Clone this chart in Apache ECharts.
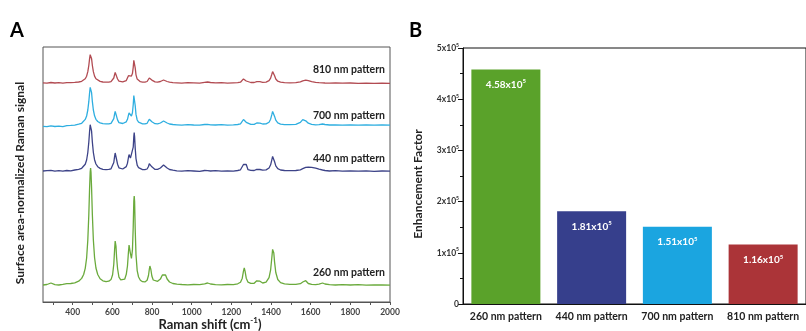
<!DOCTYPE html>
<html><head><meta charset="utf-8">
<script src="https://cdn.jsdelivr.net/npm/echarts@6/dist/echarts.min.js"></script>
<style>html,body{margin:0;padding:0;background:#fff}#c{width:806px;height:331px}</style>
</head><body><div id="c"></div>
<script>
const ramanShift = [250,270,290,310,330,350,370,390,410,430,
445,455,463,470,476,481,485,488,490,492,
495,499,504,510,517,526,538,552,568,582,
593,601,607,611,614,616,618,621,626,633,
642,652,662,670,676,681,684,687,691,696,
701,705,708,710,712,715,719,725,732,741,
752,764,775,782,786,789,791,794,799,806,
815,828,842,852,858,862,868,876,888,905,
925,950,980,1010,1040,1065,1080,1095,1120,1150,
1180,1210,1232,1246,1255,1261,1265,1269,1275,1284,
1298,1315,1328,1336,1344,1358,1375,1390,1398,1404,
1408,1411,1414,1418,1424,1434,1448,1468,1495,1525,
1548,1560,1567,1575,1588,1605,1625,1642,1652,1660,
1672,1695,1725,1760,1800,1840,1880,1920,1960,2000];

const pattern260 = [17,17.5,19,17.4,17,17.6,18.3,18.5,19.2,20.8,
23.6,27.5,33.7,44,62,87,114,130,134,130,
114,87,62,44.5,34,27.5,23.3,21.2,20.3,20.8,
22.4,27.2,37.7,52,61,62,56,45,33.5,24.8,
22.1,21.8,22.8,27.7,36,50,57,58,48.4,43.6,
51.8,75,101,106,100.5,72.8,47.3,31.4,25,21.8,
20.3,20.1,21.7,26.5,32.5,36,36,32.5,26,22,
20.5,20.7,22.9,27,29,29,27,23,20,18.5,
17.8,17.5,17.2,17.5,17.3,18.2,19,18,17.4,17.2,
17.5,17.3,18.2,19.8,23.8,30.8,34,30.8,23.8,19.8,
18.6,18.7,21.2,23,20.8,19,19.8,24.4,32.2,44.2,
52.6,54,49,39.6,29.5,22.5,19.4,18.1,17.7,17.6,
18.3,20,21.7,21.3,18.5,17.6,17.3,17.8,18.8,19,
18,17.3,17,17.4,17,17.3,16.9,17.2,17,16.8];

const pattern440 = [131,131.4,131.6,130.8,131.3,130.9,131.5,131.2,132,132.6,
133.7,135.3,137.8,142,149.5,159.7,170.8,177.3,179,177.3,
170.8,159.7,149.5,142.3,138,135.3,133.6,132.7,132.4,132.6,
133.2,135.2,139.5,145.3,149,150,147,142.5,137.8,134.2,
133.1,133,133.4,135.4,138.8,144.5,147.4,147.8,143.9,141.9,
145.3,154.8,165.4,169.5,165.2,153.9,143.4,136.9,134.3,133,
132.4,132.3,133,135.5,138.3,140,140,138.3,135.2,133.4,
132.6,132.7,134,136,137,137,136,134,132.5,131.8,
131.2,130.8,131.3,131,130.7,131.5,131.4,131,131.3,130.8,
131.2,130.9,131.5,132.2,134.2,137.5,139,135.5,137.5,132.3,
131.6,131.5,132.6,133.3,132.5,131.8,132.1,134,137.2,142.2,
145.6,146.2,144.1,140.3,136.1,133.3,132,131.5,131.3,131.5,
132.2,133.3,134.2,134.6,134.9,134.7,133.8,132.8,132.3,132,
131.5,131,131.3,130.8,131.2,130.9,131.1,130.7,131,130.8];

const pattern700 = [175.6,175.3,176.2,175.5,175.8,175.4,176.4,176.6,176.9,177.8,
178.7,180.5,182.6,186,192,200.3,209.3,214.6,216,214.6,
209.3,200.3,192,186.2,182.7,180.5,179.1,178.4,178.1,178.2,
178.7,180.2,183.4,187.9,190.6,191,189.1,185.7,182.1,179.4,
178.6,178.5,178.7,180.2,182.7,186.9,189,189.3,187.3,186,
189.2,197.3,206.4,208.2,206.2,196.5,187.6,182,179.8,178.7,
178.2,178.1,178.7,180.5,182.7,184,184,182.7,180.3,178.9,
178.3,178.2,179,180.3,181,181,180.3,179,178,177.5,
177.2,176.8,177.3,177,176.8,177.5,177.6,177.2,177,177.3,
176.9,177.2,177.5,178.1,179.7,182.5,183.8,182.5,179.7,178.1,
177.6,177.7,179,180,178.9,178,178.1,179.8,182.8,187.3,
190.5,191,189.2,185.6,181.8,179.1,177.9,177.4,177.3,177.6,
179.6,182.4,183,181.2,178.8,177.7,177.2,177.4,177.8,178,
177.5,177,177.1,176.8,177.2,176.9,177.1,176.8,177,176.9];

const pattern810 = [219.2,218.8,219.5,219,219.3,218.9,219.4,219.3,219.6,220,
220.7,221.6,223.2,225.8,230.3,236.5,243.3,247.3,248.3,247.3,
243.3,236.5,230.3,225.9,223.3,221.6,220.6,220,219.8,219.9,
220.3,221.4,224,227.4,229.6,230,228.4,225.7,223,220.9,
220.2,220.1,220.3,221.4,223.2,226.3,227.8,228,227,225.9,
228.4,234.7,241.7,243,241.5,234.1,227.2,222.9,221.2,220.3,
219.9,219.8,220.5,222,224,225.1,225.1,224,221.9,220.6,
220.1,219.9,220.5,221.5,222,222,221.5,220.5,219.8,219.4,
219.2,218.9,219.3,219.1,218.9,219.6,220,219.5,219.1,219.3,
218.9,219.2,219.4,219.8,221,223.1,224.1,223.1,221,219.8,
219.5,219.5,220.4,221,220.3,219.7,219.9,221.4,223.9,227.7,
230.4,230.8,229.2,226.2,223,220.8,219.8,219.4,219.2,219.3,
220.2,221.2,221.8,221.9,221.3,220.3,219.6,219.3,219.4,219.2,
219,218.8,219.1,218.8,219,218.7,218.9,218.6,218.8,218.7];

const spectrumLabels = ['810 nm pattern','700 nm pattern','440 nm pattern','260 nm pattern'];
const ramanTickLabels = [400,600,800,1000,1200,1400,1600,1800,2000];
const ramanMinorTicks = [300,400,500,600,700,800,900,1000,1100,1200,1300,1400,1500,1600,1700,1800,1900,2000];

const barCategories = ['260 nm pattern','440 nm pattern','700 nm pattern','810 nm pattern'];
const enhancementFactor = [458000,181000,151000,116000];

const FONT = 'Lato';
const lineColors = {p260:'#6aaa3c', p440:'#3d4388', p700:'#2eaee0', p810:'#b24b52'};
const barColors = ['#5aa22a','#363f8c','#1ba5e0','#ab3438'];

const pairs = arr => ramanShift.map((x,i)=>[x, arr[i]]);

const chart = echarts.init(document.getElementById('c'), null, {renderer:'canvas'});

function lineSeries(name, data, color){
  return {name, type:'line', xAxisIndex:0, yAxisIndex:0, data:pairs(data), showSymbol:false,
    lineStyle:{color, width:1.3}, itemStyle:{color}, silent:true, animation:false};
}

const supRich = {
  a:{fontFamily:FONT, fontSize:8.5, fontWeight:'bold', color:'#333'},
  s:{fontFamily:FONT, fontSize:5, fontWeight:'bold', color:'#333', padding:[0,0,6,0]}
};

const option = {
  animation:false,
  grid:[
    {left:43, right:416, top:47, bottom:29, show:true, borderColor:'#555', borderWidth:1, backgroundColor:'transparent'},
    {left:463, right:-8, top:48, bottom:27, show:true, borderColor:'#111', borderWidth:1, backgroundColor:'transparent'}
  ],
  xAxis:[
    {type:'value', gridIndex:0, min:250, max:2000,
      axisLine:{show:true, lineStyle:{color:'#555'}},
      axisTick:{show:true, customValues:ramanMinorTicks, length:3, inside:false, lineStyle:{color:'#555'}},
      axisLabel:{customValues:ramanTickLabels, formatter:v=>String(v), fontFamily:FONT, fontSize:8.5, fontWeight:'bold', color:'#444', margin:6},
      splitLine:{show:false}},
    {type:'category', gridIndex:1, data:barCategories,
      axisLine:{show:true, lineStyle:{color:'#111'}},
      axisTick:{show:false},
      axisLabel:{interval:0, fontFamily:FONT, fontSize:10.5, fontWeight:'bold', color:'#222', margin:7},
      splitLine:{show:false}}
  ],
  yAxis:[
    {type:'value', gridIndex:0, min:0, max:255, show:true,
      axisLine:{show:false}, axisTick:{show:false}, axisLabel:{show:false}, splitLine:{show:false}},
    {type:'value', gridIndex:1, min:0, max:500000, interval:100000,
      axisLine:{show:true, lineStyle:{color:'#111'}},
      axisTick:{show:true, length:5, lineStyle:{color:'#111'}},
      minorTick:{show:true, splitNumber:2, length:3, lineStyle:{color:'#111'}},
      axisLabel:{margin:4, formatter:v=> v===0 ? '{a|0}' : '{a|'+(v/100000)+'x10}{s|5}', rich:supRich},
      splitLine:{show:false}}
  ],
  series:[
    lineSeries('260 nm pattern', pattern260, lineColors.p260),
    lineSeries('440 nm pattern', pattern440, lineColors.p440),
    lineSeries('700 nm pattern', pattern700, lineColors.p700),
    lineSeries('810 nm pattern', pattern810, lineColors.p810),
    {type:'bar', xAxisIndex:1, yAxisIndex:1, barWidth:69, silent:true,
      data:enhancementFactor.map((v,i)=>({value:v, itemStyle:{color:barColors[i]}})),
      label:{show:true, position:'insideTop', distance:9,
        formatter:p=>'{a|'+(p.value/100000).toFixed(2)+'x10}{s|5}',
        rich:{a:{fontFamily:FONT, fontSize:10, fontWeight:'bold', color:'#fff'},
              s:{fontFamily:FONT, fontSize:6, fontWeight:'bold', color:'#fff', padding:[0,0,7,0]}}}}
  ],
  graphic:[
    {type:'text', left:10, top:21, style:{text:'A', font:'bold 20px '+FONT, fill:'#000'}},
    {type:'text', left:409, top:21, style:{text:'B', font:'bold 20px '+FONT, fill:'#000'}},
    {type:'text', x:385, y:70, style:{text:spectrumLabels[0], font:'bold 10.5px '+FONT, fill:'#222', align:'right', verticalAlign:'middle'}},
    {type:'text', x:385, y:116, style:{text:spectrumLabels[1], font:'bold 10.5px '+FONT, fill:'#222', align:'right', verticalAlign:'middle'}},
    {type:'text', x:385, y:159, style:{text:spectrumLabels[2], font:'bold 10.5px '+FONT, fill:'#222', align:'right', verticalAlign:'middle'}},
    {type:'text', x:385, y:273, style:{text:spectrumLabels[3], font:'bold 10.5px '+FONT, fill:'#222', align:'right', verticalAlign:'middle'}},
    {type:'text', x:20, y:183, rotation:Math.PI/2, style:{text:'Surface area-normalized Raman signal', font:'bold 12px '+FONT, fill:'#222', align:'center', verticalAlign:'middle'}},
    {type:'text', x:418, y:184, rotation:Math.PI/2, style:{text:'Enhancement Factor', font:'bold 12px '+FONT, fill:'#222', align:'center', verticalAlign:'middle'}},
    {type:'text', x:210, y:325, style:{text:'{t|Raman shift (cm}{s|-1}{t|)}', align:'center', verticalAlign:'middle',
      rich:{t:{font:'bold 13px '+FONT, fill:'#222'}, s:{font:'bold 8px '+FONT, fill:'#222', padding:[0,0,9,0]}}}}
  ]
};
chart.setOption(option);
</script></body></html>
